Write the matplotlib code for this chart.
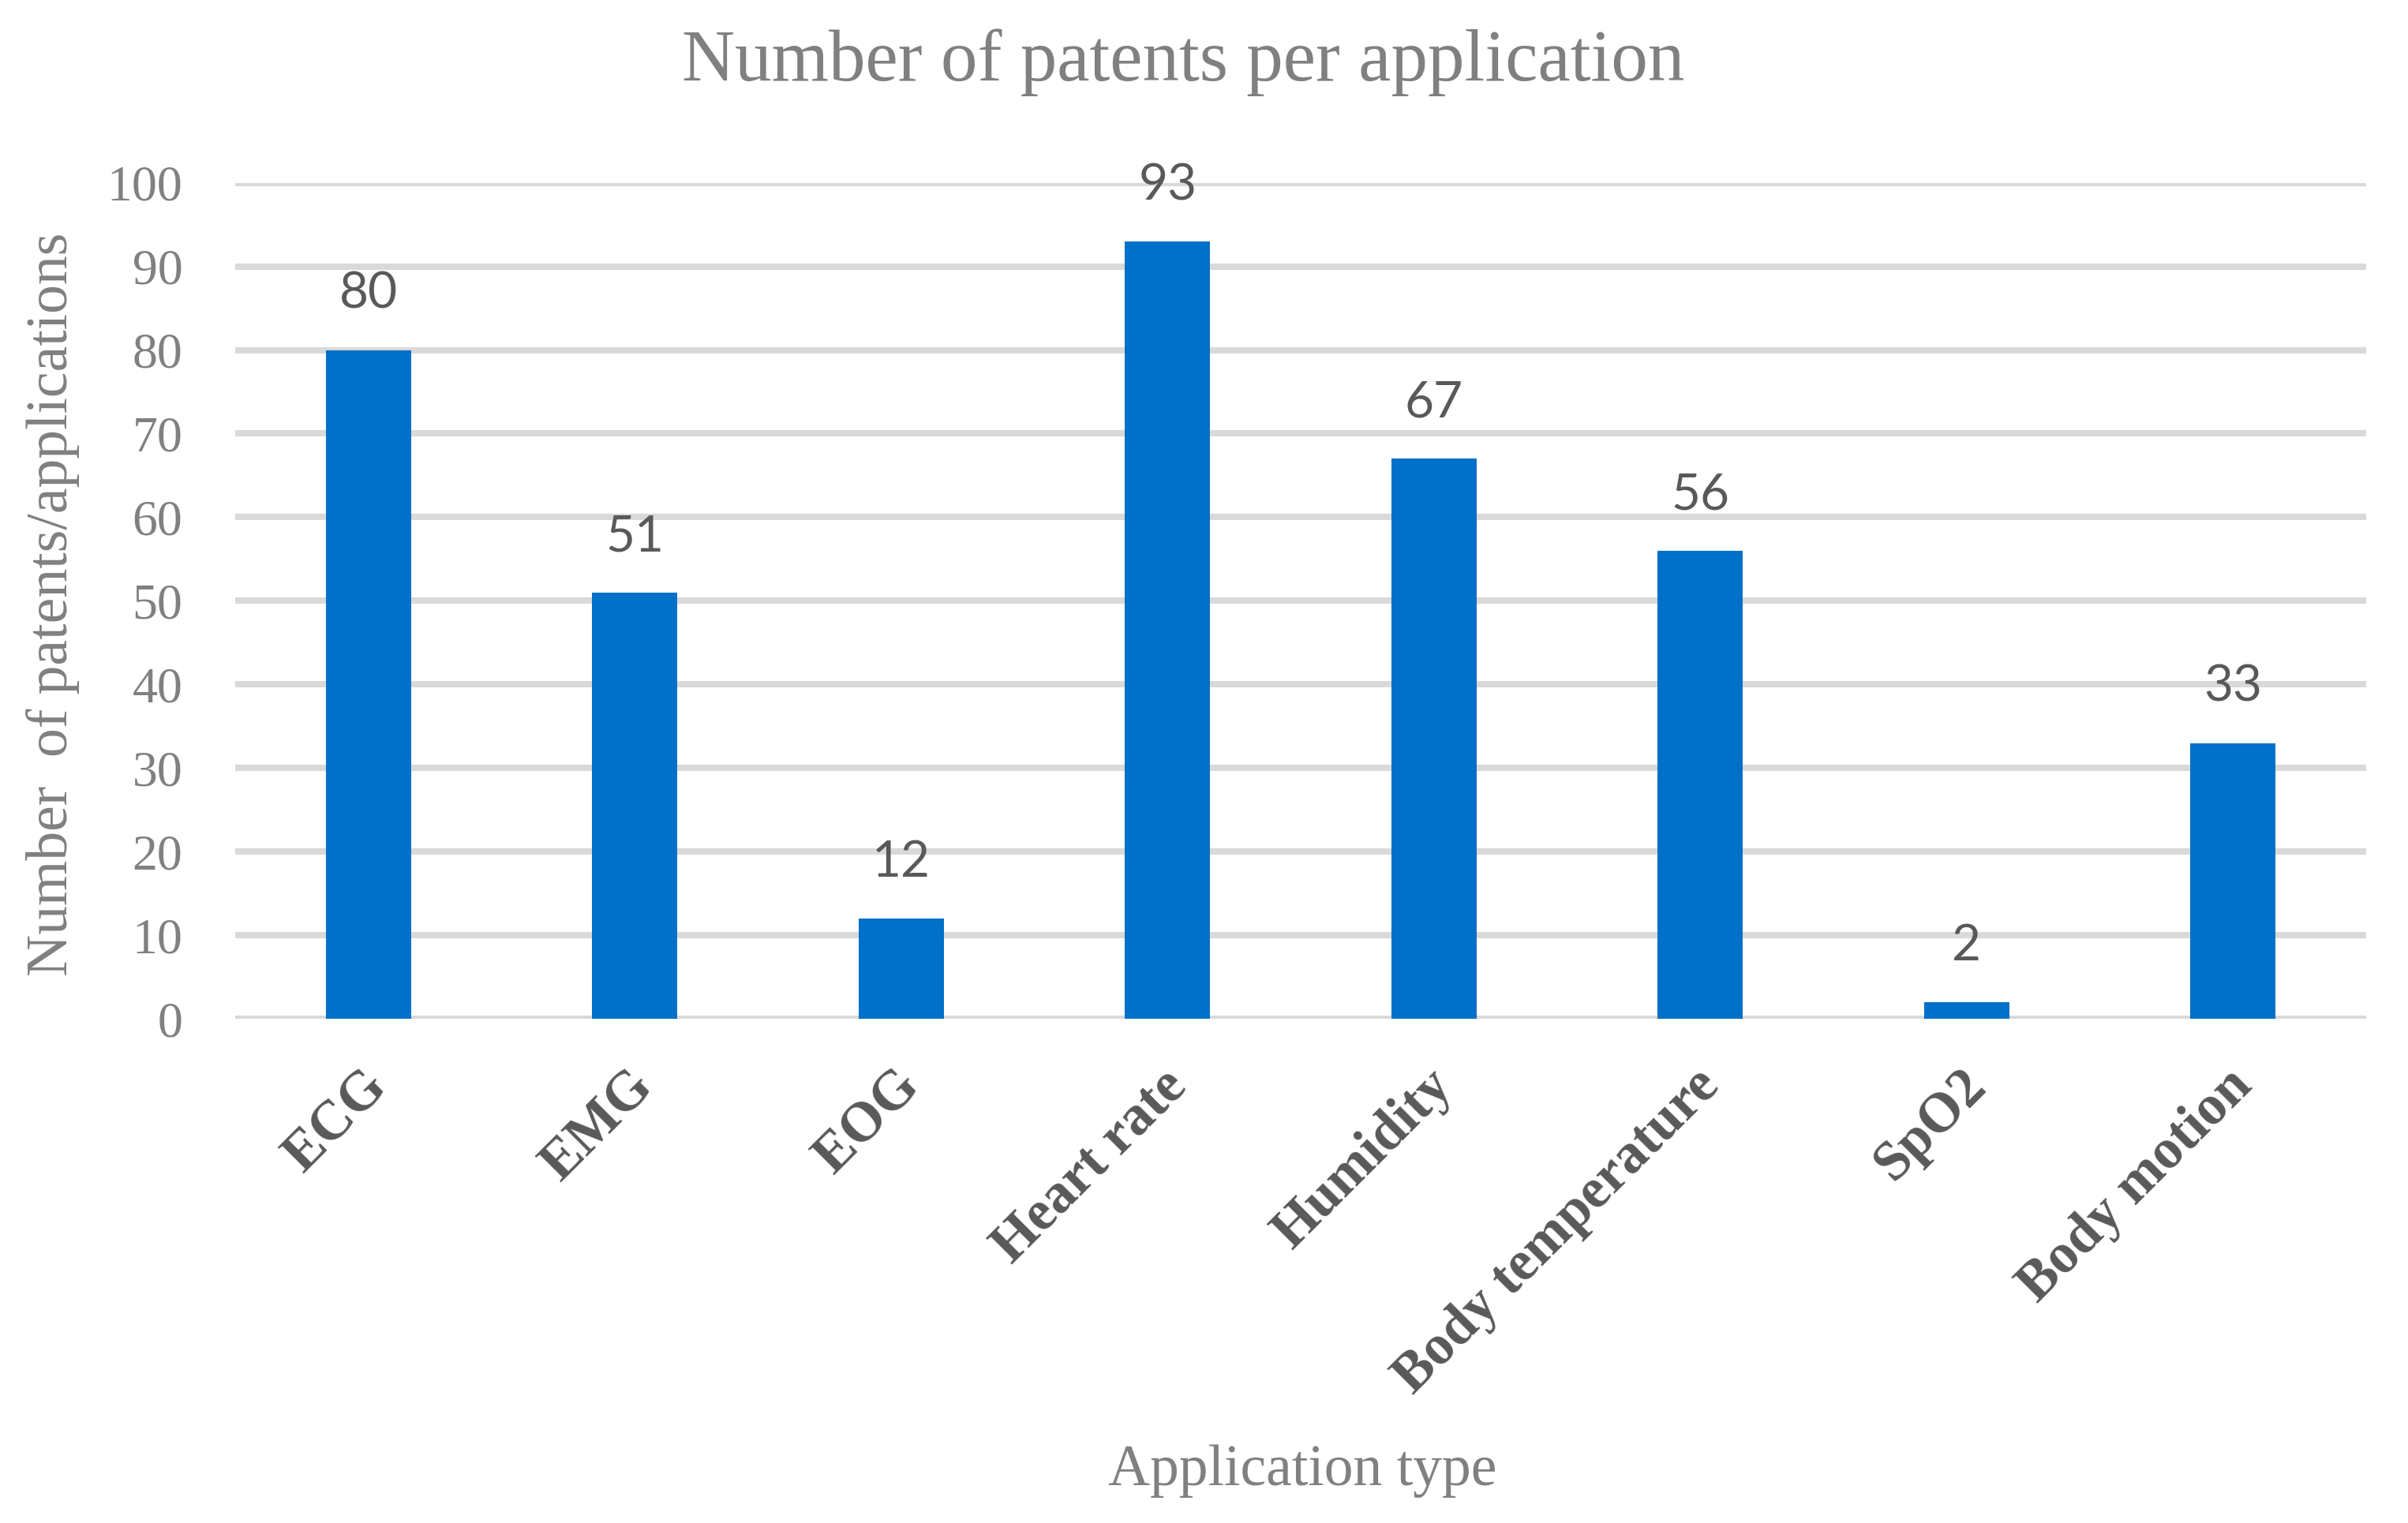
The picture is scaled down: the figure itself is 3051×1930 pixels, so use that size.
import matplotlib as mpl
import matplotlib.pyplot as plt
from matplotlib.transforms import ScaledTranslation

mpl.use('Agg')

categories = ["ECG", "EMG", "EOG", "Heart rate", "Humidity",
              "Body temperature", "SpO2", "Body motion"]
counts = [80, 51, 12, 93, 67, 56, 2, 33]
yticks = [0, 10, 20, 30, 40, 50, 60, 70, 80, 90, 100]

serif = "Liberation Serif"
sans = "Lato"
grey = "#808080"
dark = "#595959"

fig = plt.figure(figsize=(15.255, 9.65), dpi=200)
ax = fig.add_axes([0.0977, 0.331, 0.885, 0.549])

x = list(range(len(categories)))
bars = ax.bar(x, counts, width=0.32, color="#0070c8", zorder=3)

for b, v in zip(bars, counts):
    ax.annotate(str(v), (b.get_x() + b.get_width() / 2, v),
                xytext=(0, 15), textcoords="offset points",
                ha="center", va="bottom", fontsize=23,
                family=sans, color=dark)

ax.set_xlim(-0.5, len(categories) - 0.5)
ax.set_ylim(0, 100)
ax.set_yticks(yticks)
ax.set_yticklabels([str(t) for t in yticks], family=serif, fontsize=23, color=grey)
ax.yaxis.grid(True, color="#d9d9d9", linewidth=2.9, zorder=0)
ax.set_axisbelow(True)

ax.set_xticks(x)
ax.set_xticklabels(categories, rotation=45, ha="right", va="center",
                   rotation_mode="anchor", family=serif, fontweight="bold",
                   fontsize=25.5, color=dark)
ax.tick_params(axis="x", length=0, pad=27)
ax.tick_params(axis="y", length=0, pad=24)
shift = ScaledTranslation(5 / 72, 0, fig.dpi_scale_trans)
for lab in ax.get_xticklabels():
    lab.set_transform(lab.get_transform() + shift)

for s in ax.spines.values():
    s.set_visible(False)

fig.text(0.4915, 0.959, "Number of patents per application", ha="center",
         va="center", family=serif, fontsize=33.5, color=grey)
fig.text(0.541, 0.034, "Application type", ha="center", va="center",
         family=serif, fontsize=26.5, color=grey)
fig.text(0.022, 0.603, "Number  of patents/applications", ha="center",
         va="center", rotation=90, family=serif, fontsize=26.5, color=grey)

fig.savefig("out.png", dpi=200)
